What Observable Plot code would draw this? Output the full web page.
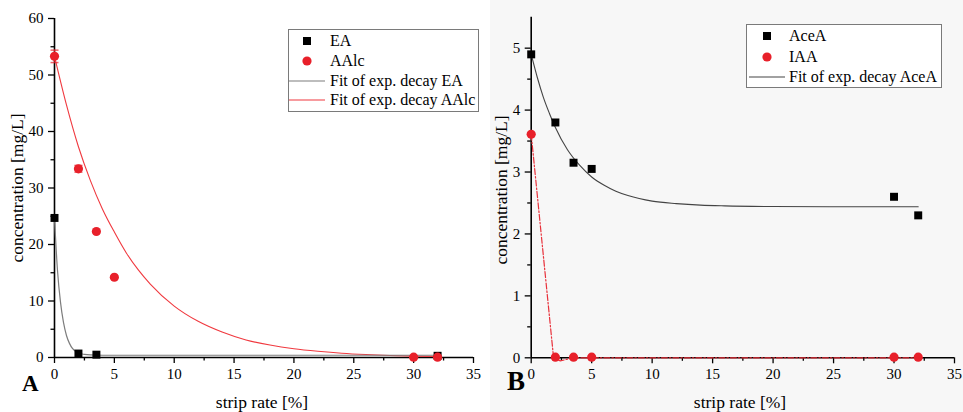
<!DOCTYPE html>
<html>
<head>
<meta charset="utf-8">
<script src="https://cdn.jsdelivr.net/npm/d3@7"></script>
<script src="https://cdn.jsdelivr.net/npm/@observablehq/plot@0.6"></script>
<style>
  body { margin: 0; background: #fff; }
  #wrap { position: relative; width: 963px; height: 412px; overflow: hidden;
          font-family: "Liberation Serif", "Times New Roman", serif; color: #000; }
  .panel { position: absolute; top: 0; }
  .legend { position: absolute; box-sizing: border-box; border: 1px solid #7a7a7a; background: #fff; }
  .row { position: absolute; left: 0; white-space: nowrap; font-size: 16px; line-height: 1; }
  #overlay { position: absolute; left: 0; top: 0; pointer-events: none; }
</style>
</head>
<body>
<div id="wrap">
  <div id="bgB" style="position:absolute;left:490px;top:0;width:473px;height:412px;background:#f7f7f7;"></div>
  <div id="panelA" class="panel" style="left:0;"></div>
  <div id="panelB" class="panel" style="left:483px;"></div>
</div>
<script>
// ---------- data ----------
const stripRate = [0, 2, 3.5, 5, 30, 32];

// Panel A
const eaX = [0, 2, 3.5, 32];
const eaY = [24.7, 0.7, 0.5, 0.3];
const aalcY = [53.3, 33.4, 22.3, 14.2, 0.05, 0.05];
const aalcErr = [1.1, 0.6, 0, 0, 0, 0];
const eaFitX = [0, 0.25, 0.5, 0.75, 1, 1.25, 1.5, 1.75, 2, 2.5, 3, 4, 6, 10, 20, 32];
const eaFitY = [24.7, 15.4, 9.8, 6.2, 3.9, 2.5, 1.6, 1.1, 0.8, 0.55, 0.45, 0.4, 0.4, 0.4, 0.4, 0.4];
const aalcFitX = [0, 1, 2, 3, 4, 5, 6, 7, 8, 10, 12, 14, 16, 18, 20, 22, 24, 26, 28, 30, 32];
const aalcFitY = [53.3, 44.7, 37.3, 31.3, 26.3, 22.2, 18.5, 15.5, 13.0, 9.1, 6.4, 4.5, 3.1, 2.2, 1.55, 1.1, 0.75, 0.52, 0.36, 0.25, 0.18];

// Panel B
const aceaY = [4.9, 3.8, 3.15, 3.05, 2.6, 2.3];
const iaaY = [3.61, 0.01, 0.01, 0.01, 0.01, 0.01];
const aceaFitX = [0, 0.5, 1, 1.5, 2, 3, 4, 5, 6, 7, 8, 10, 12, 14, 16, 20, 25, 32];
const aceaFitY = [4.9, 4.53, 4.21, 3.95, 3.72, 3.36, 3.11, 2.92, 2.79, 2.69, 2.62, 2.53, 2.49, 2.465, 2.453, 2.443, 2.44, 2.44];
const iaaLineX = [0, 1.85, 2.4, 3.5, 5, 30, 32];
const iaaLineY = [3.61, 0.0, -0.05, 0.0, 0.0, 0.0, 0.0];

// ticks
const xTicks = [0, 5, 10, 15, 20, 25, 30, 35];
const xMinor = [2.5, 7.5, 12.5, 17.5, 22.5, 27.5, 32.5];
const yTicksA = [0, 10, 20, 30, 40, 50, 60];
const yMinorA = [5, 15, 25, 35, 45, 55];
const yTicksB = [0, 1, 2, 3, 4, 5];
const yMinorB = [0.5, 1.5, 2.5, 3.5, 4.5];

// text
const xLabel = "strip rate [%]";
const yLabel = "concentration [mg/L]";
const legendA = [
  {label: "EA", kind: "square", color: "#000"},
  {label: "AAlc", kind: "circle", color: "#e8202a"},
  {label: "Fit of exp. decay EA", kind: "line", color: "#7d7d7d"},
  {label: "Fit of exp. decay AAlc", kind: "line", color: "#f0393f"}
];
const legendB = [
  {label: "AceA", kind: "square", color: "#000"},
  {label: "IAA", kind: "circle", color: "#e8202a"},
  {label: "Fit of exp. decay AceA", kind: "line", color: "#444"}
];

// ---------- helpers ----------
const RED = "#e8202a";
const font = "Liberation Serif, Times New Roman, serif";
const zip = (xs, ys) => xs.map((x, i) => ({x, y: ys[i]}));
const capSymbol = {
  draw(ctx, size) { const w = 4; ctx.moveTo(-w, 0); ctx.lineTo(w, 0); }
};
const fmt = d => String(d);

function axes(yTicks, yMinor) {
  return [
    Plot.axisX({ticks: xTicks, tickFormat: fmt, tickSize: 6, tickPadding: 5, fontSize: 15, label: null, strokeWidth: 1.3}),
    Plot.axisX({ticks: xMinor, tickSize: 3.5, text: null, label: null, strokeWidth: 1.3}),
    Plot.axisY({ticks: yTicks, tickFormat: fmt, tickSize: 6, tickPadding: 5, fontSize: 15, label: null, strokeWidth: 1.3}),
    Plot.axisY({ticks: yMinor, tickSize: 3.5, text: null, label: null, strokeWidth: 1.3}),
    Plot.ruleX([0], {stroke: "#000", strokeWidth: 1.6}),
    Plot.ruleY([0], {stroke: "#000", strokeWidth: 1.6})
  ];
}

// ---------- Panel A ----------
const aalcData = stripRate.map((x, i) => ({x, y: aalcY[i], e: aalcErr[i]}));
const errData = aalcData.filter(d => d.e > 0);
const plotA = Plot.plot({
  width: 483, height: 412,
  marginLeft: 54, marginRight: 10, marginTop: 18, marginBottom: 55,
  x: {domain: [0, 35]},
  y: {domain: [0, 60]},
  style: {fontFamily: font, background: "transparent", color: "#000", overflow: "visible"},
  marks: [
    ...axes(yTicksA, yMinorA),
    Plot.line(zip(aalcFitX, aalcFitY), {x: "x", y: "y", stroke: "#f0393f", strokeWidth: 1.1, curve: "monotone-x"}),
    Plot.line(zip(eaFitX, eaFitY), {x: "x", y: "y", stroke: "#7d7d7d", strokeWidth: 1.2, curve: "monotone-x"}),
    Plot.ruleX(errData, {x: "x", y1: d => d.y - d.e, y2: d => d.y + d.e, stroke: RED, strokeOpacity: 0.7}),
    Plot.dot(errData, {x: "x", y: d => d.y - d.e, symbol: capSymbol, stroke: RED, strokeOpacity: 0.7, fill: "none"}),
    Plot.dot(errData, {x: "x", y: d => d.y + d.e, symbol: capSymbol, stroke: RED, strokeOpacity: 0.7, fill: "none"}),
    Plot.dot(zip(eaX, eaY), {x: "x", y: "y", symbol: "square", r: 4.5, fill: "#000", stroke: "none"}),
    Plot.dot(aalcData, {x: "x", y: "y", symbol: "circle", r: 4.6, fill: RED, stroke: "none"})
  ]
});
document.getElementById("panelA").appendChild(plotA);

// ---------- Panel B ----------
const plotB = Plot.plot({
  width: 480, height: 412,
  marginLeft: 47.7, marginRight: 9, marginTop: 16.7, marginBottom: 54.7,
  x: {domain: [0, 35]},
  y: {domain: [0, 5.5]},
  style: {fontFamily: font, background: "transparent", color: "#000", overflow: "visible"},
  marks: [
    ...axes(yTicksB, yMinorB),
    Plot.line(zip(aceaFitX, aceaFitY), {x: "x", y: "y", stroke: "#444", strokeWidth: 1.1, curve: "monotone-x"}),
    Plot.line(zip(iaaLineX, iaaLineY), {x: "x", y: "y", stroke: "#e8303a", strokeWidth: 1.2, strokeDasharray: "6,2,1.5,2"}),
    Plot.dot(zip(stripRate, aceaY), {x: "x", y: "y", symbol: "square", r: 4.5, fill: "#000", stroke: "none"}),
    Plot.dot(zip(stripRate, iaaY), {x: "x", y: "y", symbol: "circle", r: 4.6, fill: RED, stroke: "none"})
  ]
});
document.getElementById("panelB").appendChild(plotB);

// ---------- legends ----------
function legend(items, box, symX, textX, rowY, lineX) {
  const div = document.createElement("div");
  div.className = "legend";
  Object.assign(div.style, {left: box[0] + "px", top: box[1] + "px", width: box[2] + "px", height: box[3] + "px"});
  items.forEach((it, i) => {
    const svg = d3.create("svg").attr("width", box[2]).attr("height", 20)
      .style("position", "absolute").style("left", "-1px").style("top", (rowY[i] - 11) + "px").style("overflow", "visible");
    if (it.kind === "square") svg.append("rect").attr("x", symX - 4).attr("y", 6).attr("width", 8).attr("height", 8).attr("fill", it.color);
    else if (it.kind === "circle") svg.append("circle").attr("cx", symX).attr("cy", 10).attr("r", 4.6).attr("fill", it.color);
    else svg.append("line").attr("x1", lineX[0]).attr("x2", lineX[1]).attr("y1", 10).attr("y2", 10).attr("stroke", it.color).attr("stroke-width", 1.2);
    div.appendChild(svg.node());
    const t = document.createElement("div");
    t.className = "row";
    t.textContent = it.label;
    Object.assign(t.style, {left: (textX - 1) + "px", top: (rowY[i] - 11) + "px", height: "20px", lineHeight: "20px"});
    div.appendChild(t);
  });
  document.getElementById("wrap").appendChild(div);
}
legend(legendA, [288, 29, 191, 83], 19, 42, [12, 32, 52, 71], [1, 37]);
legend(legendB, [746, 24, 196, 64], 21, 43, [12, 33, 53], [3, 39]);

// ---------- axis titles & panel letters ----------
const ov = d3.select("#wrap").append("svg").attr("id", "overlay").attr("width", 963).attr("height", 412)
  .style("font-family", font);
const addText = (txt, x, y, opts = {}) => {
  const t = ov.append("text").attr("x", x).attr("y", y).text(txt)
    .attr("font-size", opts.size || 17).attr("fill", "#000")
    .attr("text-anchor", opts.anchor || "middle")
    .attr("dominant-baseline", opts.baseline || "central");
  if (opts.weight) t.attr("font-weight", opts.weight);
  if (opts.rotate) t.attr("transform", `rotate(-90 ${x} ${y})`);
};
addText(xLabel, 262, 402, {size: 17.5});
addText(xLabel, 740, 402, {size: 17.5});
addText(yLabel, 17, 188, {size: 17.5, rotate: true});
addText(yLabel, 501, 190, {size: 17.5, rotate: true});
addText("A", 22, 391, {size: 23, weight: "bold", anchor: "start", baseline: "auto"});
addText("B", 507, 390, {size: 27, weight: "bold", anchor: "start", baseline: "auto"});
</script>
</body>
</html>
